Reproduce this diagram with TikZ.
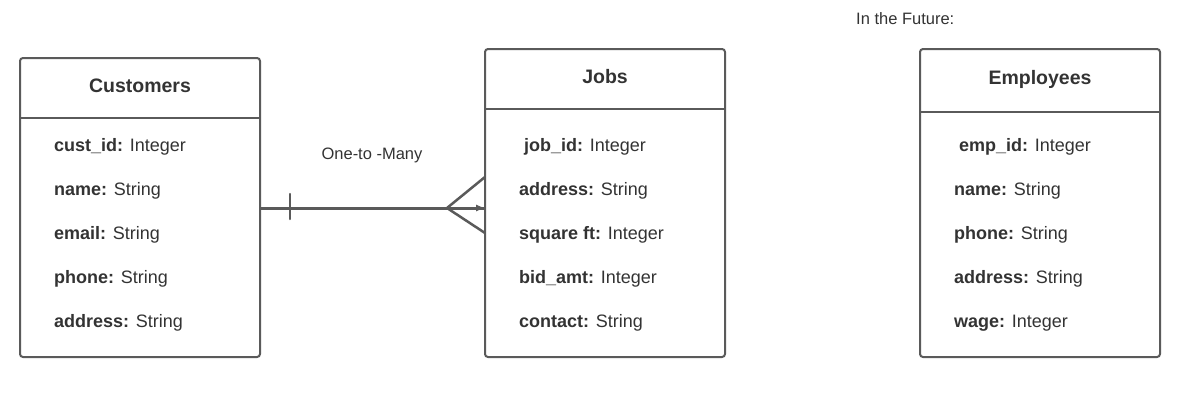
\documentclass[tikz,border=0pt]{standalone}
\usepackage{fontspec}
\setmainfont{Liberation Sans}
\usetikzlibrary{arrows.meta}
\definecolor{edge}{HTML}{5A5A5A}
\definecolor{ink}{HTML}{333333}
\tikzset{
  box/.style={draw=edge, line width=2pt, rounded corners=3pt, inner sep=0pt},
  divider/.style={draw=edge, line width=2pt},
  title/.style={text=ink, font=\fontsize{19.5}{23}\selectfont\bfseries, inner sep=0pt},
  field/.style={text=ink, font=\fontsize{18}{22}\selectfont, anchor=mid west, inner sep=0pt},
  note/.style={text=ink, font=\fontsize{16.5}{20}\selectfont, inner sep=0pt},
  rel/.style={draw=edge, line width=3pt},
  foot/.style={draw=edge, line width=2.5pt},
}
\begin{document}
\begin{tikzpicture}[x=1pt,y=-1pt]
\useasboundingbox (0,0) rectangle (1189,407);
% Customers
\node[box, minimum width=240pt, minimum height=299pt] (cust) at (140,207.5) {};
\draw[divider] (20,118) coordinate (cd1) -- (260,118) coordinate (cd2);
\node[title] (custt) at (140,86) {Customers};
\node[field] (c1) at (54,149) {\textbf{cust\_id:} Integer};
\node[field] (c2) at (54,193) {\textbf{name:} String};
\node[field] (c3) at (54,237) {\textbf{email:} String};
\node[field] (c4) at (54,281) {\textbf{phone:} String};
\node[field] (c5) at (54,325) {\textbf{address:} String};
% Jobs
\node[box, minimum width=240pt, minimum height=308pt] (jobs) at (605,203) {};
\draw[divider] (485,109) coordinate (jd1) -- (725,109) coordinate (jd2);
\node[title] (jobst) at (605,77) {Jobs};
\node[field] (j1) at (524,149) {\textbf{job\_id:} Integer};
\node[field] (j2) at (519,193) {\textbf{address:} String};
\node[field] (j3) at (519,237) {\textbf{square ft:} Integer};
\node[field] (j4) at (519,281) {\textbf{bid\_amt:} Integer};
\node[field] (j5) at (519,325) {\textbf{contact:} String};
% Employees
\node[box, minimum width=240pt, minimum height=308pt] (emp) at (1040,203) {};
\draw[divider] (920,112) coordinate (ed1) -- (1160,112) coordinate (ed2);
\node[title] (empt) at (1040,79) {Employees};
\node[field] (e1) at (959,149) {\textbf{emp\_id:} Integer};
\node[field] (e2) at (954,193) {\textbf{name:} String};
\node[field] (e3) at (954,237) {\textbf{phone:} String};
\node[field] (e4) at (954,281) {\textbf{address:} String};
\node[field] (e5) at (954,325) {\textbf{wage:} Integer};
% notes
\node[note, anchor=west] (fut) at (856,19) {In the Future:};
\node[note] (rell) at (372,155) {One-to -Many};
% relationship
\coordinate (ra) at (260,208);
\coordinate (rb) at (485,208);
\coordinate (fork) at (447,208);
\draw[rel] (ra) -- (rb);
\draw[draw=edge, line width=2.5pt, line cap=round] (290,194) -- (290,219);
\draw[foot] (fork) -- (485,177);
\draw[foot] (fork) -- (485,233);
\draw[draw=edge, line width=1pt, -{Latex[length=9pt,width=7pt]}] (fork) -- (rb);
\end{tikzpicture}
\end{document}
